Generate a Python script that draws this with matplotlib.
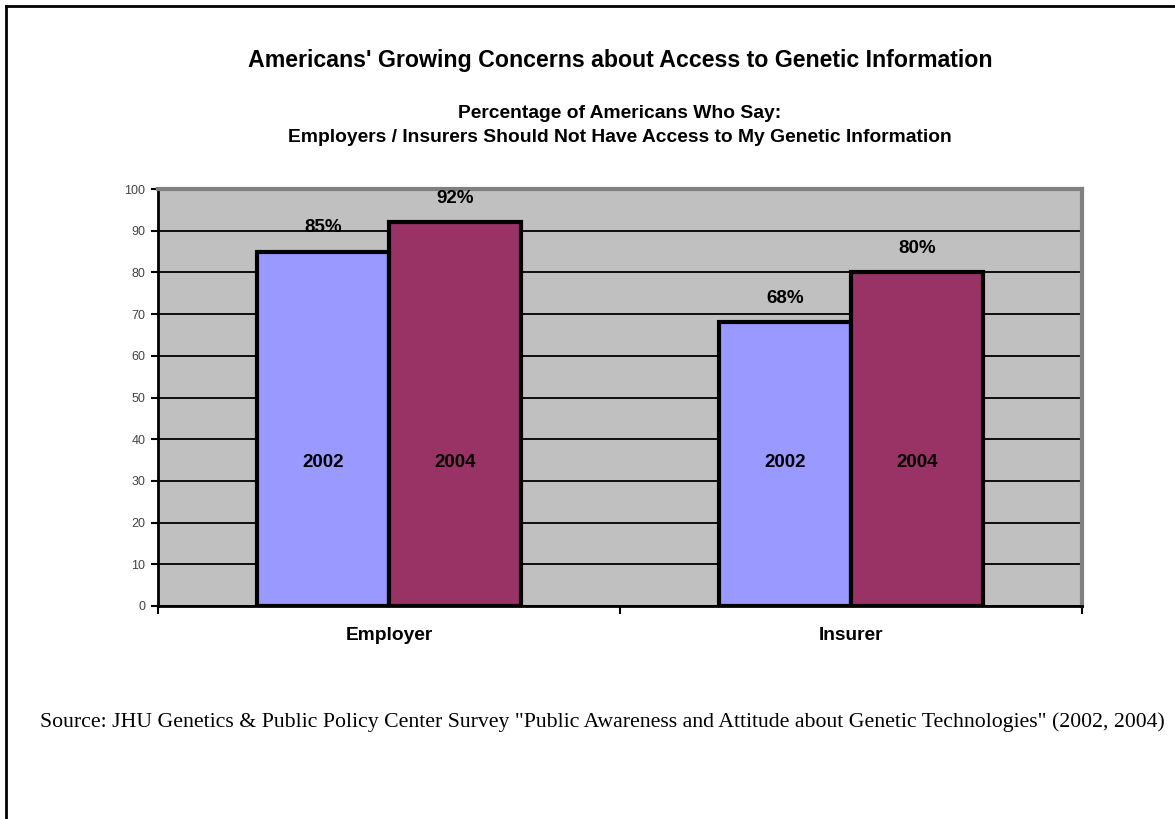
import numpy as np
import matplotlib
matplotlib.use('Agg')
import matplotlib.pyplot as plt
from matplotlib.lines import Line2D

categories = ['Employer', 'Insurer']
years = ['2002', '2004']
values_2002 = [85, 68]
values_2004 = [92, 80]
bar_colors = ['#9999FF', '#993366']

plt.rcParams['font.family'] = ['Liberation Sans', 'DejaVu Sans']

fig = plt.figure(figsize=(11.75, 8.19), dpi=100)
ax = fig.add_axes([0.1345, 0.2601, 0.9209 - 0.1345, 0.7692 - 0.2601])
ax.set_facecolor('#C0C0C0')

x = np.arange(len(categories))
w = 0.285
series = [values_2002, values_2004]
for i, vals in enumerate(series):
    xpos = x + (i - 0.5) * w
    bars = ax.bar(xpos, vals, width=w, color=bar_colors[i], edgecolor='black',
                  linewidth=3, zorder=3)
    for xp, v in zip(xpos, vals):
        ax.annotate(str(v) + '%', (xp, v), xytext=(0, 17), textcoords='offset points',
                    ha='center', va='center', fontsize=13.5, fontweight='bold', zorder=4)
        ax.text(xp, 34.5, years[i], ha='center', va='center', fontsize=13.5,
                fontweight='bold', zorder=4)

ax.set_xlim(-0.5, 1.5)
ax.set_ylim(0, 100)
ax.set_yticks(range(0, 101, 10))
ax.yaxis.grid(True, color='black', linewidth=1.3, zorder=1)
ax.set_axisbelow(True)
ax.tick_params(axis='y', labelsize=9, labelcolor='#444444', length=5, width=1.5,
               direction='out', pad=4)

ax.set_xticks([-0.5, 0.5, 1.5])
ax.set_xticklabels([])
ax.tick_params(axis='x', length=6, width=1.5, direction='out')
for xc, name in zip(x, categories):
    ax.text(xc, -7, name, ha='center', va='center', fontsize=13.8, fontweight='bold',
            transform=ax.transData, clip_on=False)

ax.spines['left'].set_color('black')
ax.spines['left'].set_linewidth(2)
ax.spines['bottom'].set_color('black')
ax.spines['bottom'].set_linewidth(2)
ax.spines['top'].set_color('#808080')
ax.spines['top'].set_linewidth(3)
ax.spines['right'].set_color('#808080')
ax.spines['right'].set_linewidth(3)

fig.text(620 / 1175, 1 - 61 / 819, "Americans' Growing Concerns about Access to Genetic Information",
         ha='center', va='center', fontsize=16.7, fontweight='bold')
fig.text(620 / 1175, 1 - 113 / 819, "Percentage of Americans Who Say:",
         ha='center', va='center', fontsize=13.9, fontweight='bold')
fig.text(620 / 1175, 1 - 138 / 819,
         "Employers / Insurers Should Not Have Access to My Genetic Information",
         ha='center', va='center', fontsize=13.9, fontweight='bold')
fig.text(40 / 1175, 1 - 722 / 819,
         'Source: JHU Genetics & Public Policy Center Survey "Public Awareness and Attitude about Genetic Technologies" (2002, 2004)',
         ha='left', va='center', fontsize=15.7, family=['Liberation Serif', 'DejaVu Serif'])

# page border (left and top edges)
bx = 6 / 1175
by = 1 - 6 / 819
fig.add_artist(Line2D([bx, bx], [0, by], transform=fig.transFigure, color='black', linewidth=2))
fig.add_artist(Line2D([bx, 1], [by, by], transform=fig.transFigure, color='black', linewidth=2))

fig.savefig('out.png', dpi=100, facecolor='white')
